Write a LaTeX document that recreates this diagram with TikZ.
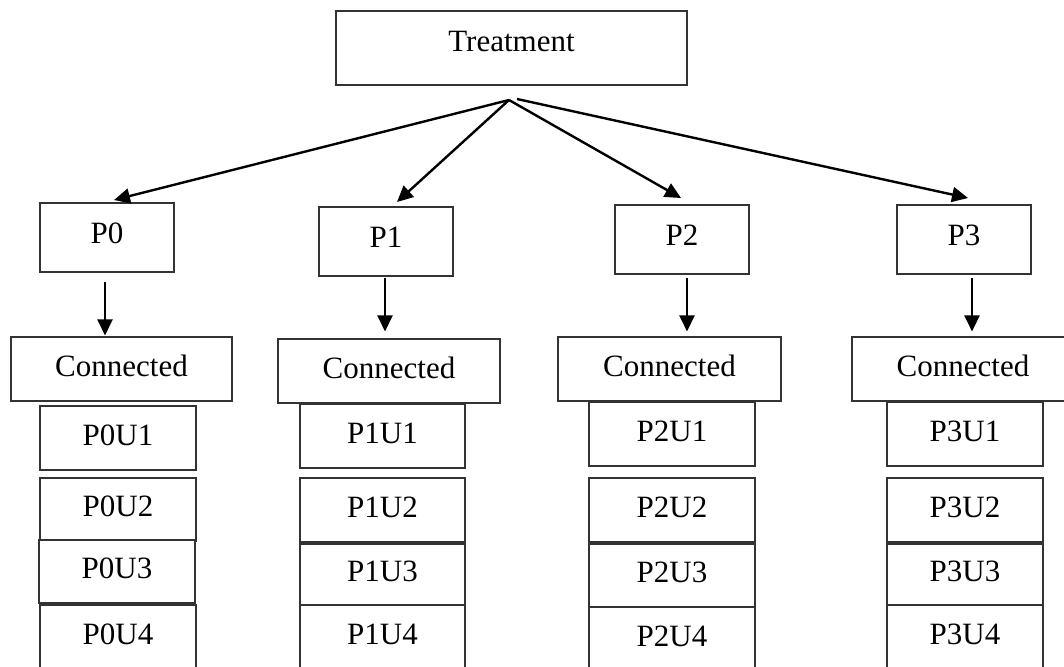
\documentclass[tikz,border=0pt]{standalone}
\usepackage{fontspec}
\setmainfont{Liberation Serif}
\usetikzlibrary{arrows.meta,calc}
\begin{document}
\begin{tikzpicture}[x=1pt,y=-1pt,
  box/.style={draw=black!80,line width=1.1pt,fill=white,inner sep=0pt,
    text height=22pt,text depth=8pt,font=\fontsize{31}{36}\selectfont},
  pbox/.style={box,minimum width=134pt,minimum height=69pt,text depth=11pt},
  cbox/.style={box,minimum height=64pt},
  ubox/.style={box,minimum height=64pt},
  arr/.style={line width=2.4pt,-{Triangle[length=16pt,width=15pt]}}]
\useasboundingbox (0,0) rectangle (1064,666);
\clip (0,0) rectangle (1064,666);
% top
\node[box,minimum width=351pt,minimum height=74pt,text depth=15pt] (T) at (511.5,48) {Treatment};
\coordinate (A) at (509,100);
\coordinate (B) at (517,99);
% P nodes
\node[pbox] (P0) at (107,237.5) {P0};
\node[pbox] (P1) at (386,241.5) {P1};
\node[pbox] (P2) at (682,239.5) {P2};
\node[pbox] (P3) at (964,239.5) {P3};
\coordinate (t0) at (114,200);
\coordinate (t1) at (397,202);
\coordinate (t2) at (681,198);
\coordinate (t3) at (968,198);
\draw[arr] (A) -- (t0);
\draw[arr] (A) -- (t1);
\draw[arr] (A) -- (t2);
\draw[arr] (B) -- (t3);
% Connected
\node[cbox,minimum width=221pt] (C0) at (121.5,369) {Connected};
\node[cbox,minimum width=222pt] (C1) at (389,371) {Connected};
\node[cbox,minimum width=223pt] (C2) at (669.5,369) {Connected};
\node[cbox,minimum width=222pt] (C3) at (963,369) {Connected};
\draw[arr] ($(P0.south)+(-2,9)$) -- ($(C0.north)+(-16.5,-1)$);
\draw[arr] ($(P1.south)+(-1,1)$) -- ($(C1.north)+(-4,-7)$);
\draw[arr] ($(P2.south)+(5,3)$) -- ($(C2.north)+(17.5,-5)$);
\draw[arr] ($(P3.south)+(8,3)$) -- ($(C3.north)+(9,-5)$);
% column 0
\node[ubox,minimum width=156pt] (P0U1) at (118,438) {P0U1};
\node[ubox,minimum width=156pt,minimum height=63pt] (P0U2) at (118,509.5) {P0U2};
\node[ubox,minimum width=156pt,minimum height=63pt] (P0U3) at (117,571.5) {P0U3};
\node[ubox,minimum width=156pt] (P0U4) at (118,637) {P0U4};
% column 1
\node[ubox,minimum width=165pt] (P1U1) at (382.5,436) {P1U1};
\node[ubox,minimum width=165pt] (P1U2) at (382.5,510) {P1U2};
\node[ubox,minimum width=165pt,minimum height=61pt] (P1U3) at (382.5,574.5) {P1U3};
\node[ubox,minimum width=165pt] (P1U4) at (382.5,637) {P1U4};
% column 2
\node[ubox,minimum width=166pt] (P2U1) at (672,434) {P2U1};
\node[ubox,minimum width=166pt] (P2U2) at (672,510) {P2U2};
\node[ubox,minimum width=166pt,minimum height=63pt] (P2U3) at (672,575.5) {P2U3};
\node[ubox,minimum width=166pt] (P2U4) at (672,639) {P2U4};
% column 3
\node[ubox,minimum width=156pt] (P3U1) at (965,434) {P3U1};
\node[ubox,minimum width=156pt] (P3U2) at (965,510) {P3U2};
\node[ubox,minimum width=156pt,minimum height=61pt] (P3U3) at (965,574.5) {P3U3};
\node[ubox,minimum width=156pt] (P3U4) at (965,637) {P3U4};
\end{tikzpicture}
\end{document}
